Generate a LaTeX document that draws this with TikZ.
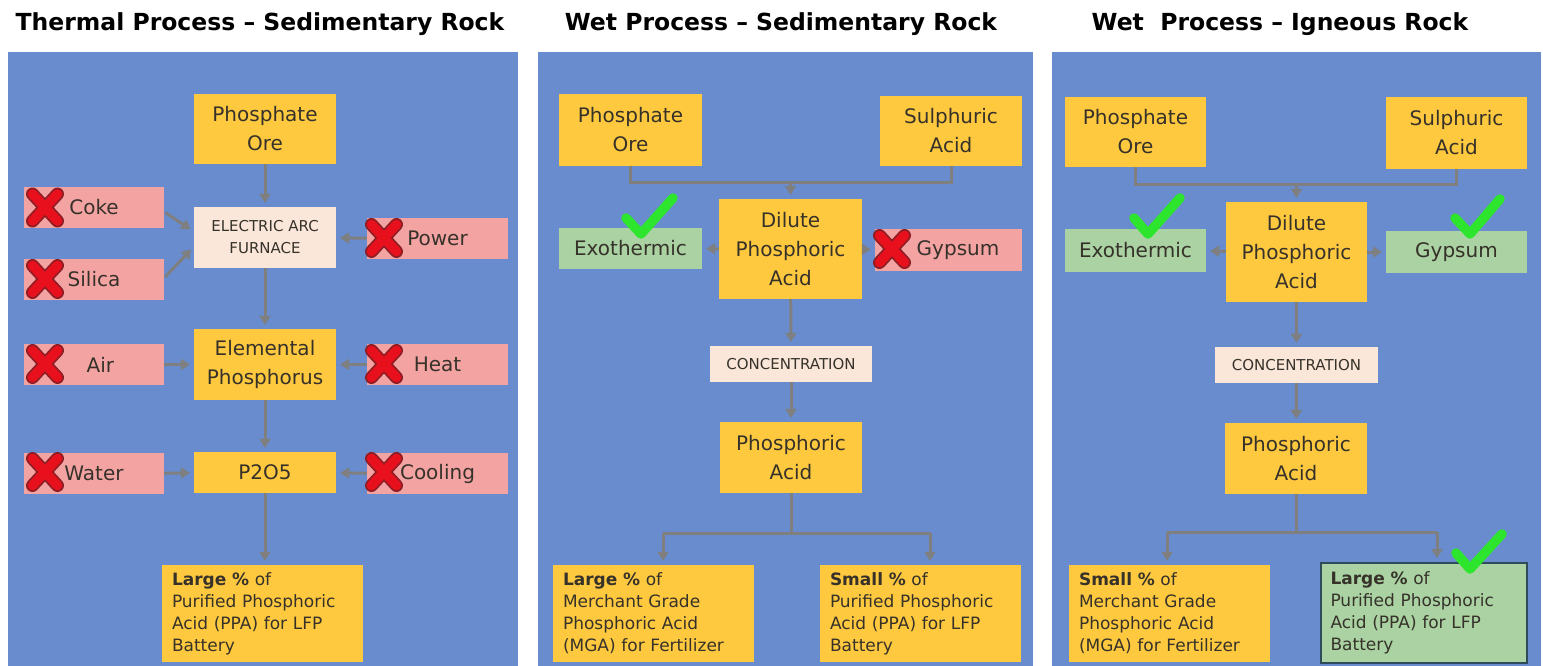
\documentclass[tikz,border=0pt]{standalone}
\usepackage{fontspec}
\setmainfont{DejaVu Sans}
\usetikzlibrary{arrows.meta,calc}
\definecolor{panelblue}{HTML}{688CCE}
\definecolor{yel}{HTML}{FFC93F}
\definecolor{pinkc}{HTML}{F4A3A3}
\definecolor{greenc}{HTML}{AAD2A2}
\definecolor{lightc}{HTML}{FBE7DA}
\definecolor{txt}{HTML}{36322A}
\definecolor{conn}{HTML}{7F7F7F}
\definecolor{xred}{HTML}{E8101C}
\definecolor{xdark}{HTML}{8E1E24}
\definecolor{chk}{HTML}{2EE52E}
\definecolor{bord}{HTML}{2F4A5A}
\tikzset{
  box/.style={inner sep=0pt, align=center, text=txt, font=\fontsize{20}{29}\selectfont},
  ybox/.style={box, fill=yel},
  pbox/.style={box, fill=pinkc, minimum width=140, minimum height=41},
  gbox/.style={box, fill=greenc},
  lbox/.style={box, fill=lightc, font=\fontsize{15}{22}\selectfont},
  bbox/.style={fill=yel, align=left, text width=181, inner xsep=10, inner ysep=0,
     minimum height=97, text=txt, font=\fontsize{17}{22}\selectfont},
  ttl/.style={anchor=base, text=black, font=\fontsize{23.5}{28}\selectfont\bfseries},
  arr/.style={draw=conn, line width=3, -{Triangle[length=9,width=11]}, shorten >=4},
  ln/.style={draw=conn, line width=3},
  redx/.pic={
    \draw[line width=13, draw=xdark, line cap=round] (-12.5,-13.5)--(12.5,13.5) (-12.5,13.5)--(12.5,-13.5);
    \draw[line width=9.5, draw=xred, line cap=round] (-12.5,-13.5)--(12.5,13.5) (-12.5,13.5)--(12.5,-13.5);
  },
  chkmark/.style={draw=chk, line width=9.5, line cap=round, line join=round}
}
\begin{document}
\begin{tikzpicture}[x=1pt,y=-1pt]
\useasboundingbox[fill=white] (0,0) rectangle (1543,666);
% panels
\fill[panelblue] (8,52) rectangle (518,666);
\fill[panelblue] (538,52) rectangle (1033,666);
\fill[panelblue] (1052,52) rectangle (1541,666);
% titles
\node[ttl] (t1) at (260,31) {Thermal Process -- Sedimentary Rock};
\node[ttl] (t2) at (781,31) {Wet Process -- Sedimentary Rock};
\node[ttl] (t3) at (1280,31) {Wet\ \ Process -- Igneous Rock};

% ---------- Panel 1 ----------
\node[ybox, minimum width=142, minimum height=70] (ore1) at (265,129) {Phosphate\\Ore};
\node[lbox, minimum width=142, minimum height=61] (eaf) at (265,237.5) {ELECTRIC ARC\\FURNACE};
\node[pbox] (coke) at (94,207.5) {Coke};
\node[pbox] (silica) at (94,279) {Silica};
\node[pbox, minimum width=141] (power) at (437.5,238.5) {Power};
\node[ybox, minimum width=142, minimum height=71] (elem) at (265,364.5) {Elemental\\Phosphorus};
\node[pbox] (air) at (94,364.5) {\ \ Air};
\node[pbox, minimum width=141] (heat) at (437.5,364.5) {Heat};
\node[ybox, minimum width=142, minimum height=41] (p2o5) at (265,472.5) {P2O5};
\node[pbox] (water) at (94,473.5) {Water};
\node[pbox, minimum width=141] (cooling) at (437.5,473.5) {Cooling};
\node[bbox] (ppa1) at (262.5,613.5) {\textbf{Large \%} of\\Purified Phosphoric\\Acid (PPA) for LFP\\Battery};

\draw[arr] (ore1) -- (eaf);
\draw[arr] ($(coke.east)+(1,5)$) -- ($(eaf.west)+(0,-6)$);
\draw[arr] ($(silica.east)+(1,-2)$) -- ($(eaf.west)+(0,9)$);
\draw[arr] (power) -- (eaf);
\draw[arr] (eaf) -- (elem);
\draw[arr] (air) -- (elem);
\draw[arr] (heat) -- (elem);
\draw[arr] (elem) -- (p2o5);
\draw[arr] (water) -- (p2o5);
\draw[arr] (cooling) -- (p2o5);
\draw[arr] (p2o5) -- (ppa1.north -| p2o5);

\pic at (45,207.5) {redx};
\pic at (45,279) {redx};
\pic at (384,238) {redx};
\pic at (45,364) {redx};
\pic at (384,364) {redx};
\pic at (45,472) {redx};
\pic at (384,472) {redx};

% ---------- Panel 2 ----------
\node[ybox, minimum width=143, minimum height=72] (ore2) at (630.5,130) {Phosphate\\Ore};
\node[ybox, minimum width=142, minimum height=70] (sul2) at (951,131) {Sulphuric\\Acid};
\node[ybox, minimum width=143, minimum height=100] (dil2) at (790.5,249) {Dilute\\Phosphoric\\Acid};
\node[gbox, minimum width=143, minimum height=41] (exo2) at (630.5,248.5) {Exothermic};
\node[pbox, minimum width=147, minimum height=42] (gyp2) at (948.5,250) {\ \ \ Gypsum};
\node[lbox, minimum width=162, minimum height=36] (conc2) at (791,364) {CONCENTRATION};
\node[ybox, minimum width=142, minimum height=71] (pa2) at (791,457.5) {Phosphoric\\Acid};
\node[bbox] (mga2) at (653.5,613.5) {\textbf{Large \%} of\\Merchant Grade\\Phosphoric Acid\\(MGA) for Fertilizer};
\node[bbox] (ppa2) at (920.5,613.5) {\textbf{Small \%} of\\Purified Phosphoric\\Acid (PPA) for LFP\\Battery};

\coordinate (j2) at (790.5,183);
\draw[ln] (ore2.south) |- (j2) -| (sul2.south);
\draw[arr] (j2) -- (dil2.north);
\draw[arr] (dil2) -- (exo2);
\draw[arr] (dil2) -- (gyp2);
\draw[arr] (dil2) -- (conc2);
\draw[arr] (conc2) -- (pa2);
\coordinate (kl2) at (663,533);
\coordinate (kr2) at (930,533);
\draw[ln] (pa2.south) -- (pa2.south |- kl2);
\draw[ln] (kl2) -- (kr2);
\draw[arr] (kl2) -- (kl2 |- mga2.north);
\draw[arr] (kr2) -- (kr2 |- ppa2.north);

\draw[chkmark] (626,218) -- (641,234) -- (673,198);
\pic at (892,249) {redx};

% ---------- Panel 3 ----------
\node[ybox, minimum width=141, minimum height=70] (ore3) at (1135.5,132) {Phosphate\\Ore};
\node[ybox, minimum width=141, minimum height=72] (sul3) at (1456.5,133) {Sulphuric\\Acid};
\node[ybox, minimum width=141, minimum height=100] (dil3) at (1296.5,252) {Dilute\\Phosphoric\\Acid};
\node[gbox, minimum width=141, minimum height=43] (exo3) at (1135.5,250.5) {Exothermic};
\node[gbox, minimum width=141, minimum height=42] (gyp3) at (1456.5,252) {Gypsum};
\node[lbox, minimum width=163, minimum height=36] (conc3) at (1296.5,365) {CONCENTRATION};
\node[ybox, minimum width=142, minimum height=71] (pa3) at (1296,458.5) {Phosphoric\\Acid};
\node[bbox] (mga3) at (1169.5,613.5) {\textbf{Small \%} of\\Merchant Grade\\Phosphoric Acid\\(MGA) for Fertilizer};
\node[bbox, fill=greenc, draw=bord, line width=2, text width=186, minimum height=100] (ppa3) at (1423.5,613) {\textbf{Large \%} of\\Purified Phosphoric\\Acid (PPA) for LFP\\Battery};

\coordinate (j3) at (1296.5,185);
\draw[ln] (ore3.south) |- (j3) -| (sul3.south);
\draw[arr] (j3) -- (dil3.north);
\draw[arr] (dil3) -- (exo3);
\draw[arr] (dil3) -- (gyp3);
\draw[arr] (dil3) -- (conc3);
\draw[arr] (conc3) -- (pa3);
\coordinate (kl3) at (1167,532);
\coordinate (kr3) at (1437,532);
\draw[ln] (pa3.south) -- (pa3.south |- kl3);
\draw[ln] (kl3) -- (kr3);
\draw[arr] (kl3) -- (kl3 |- mga3.north);
\draw[arr] (kr3) -- (kr3 |- ppa3.north);

\draw[chkmark] (1134,218) -- (1148,234) -- (1180,198);
\draw[chkmark] (1455,218) -- (1470,234) -- (1500,199);
\draw[chkmark] (1456,553) -- (1470,569) -- (1502,534);
\end{tikzpicture}
\end{document}
